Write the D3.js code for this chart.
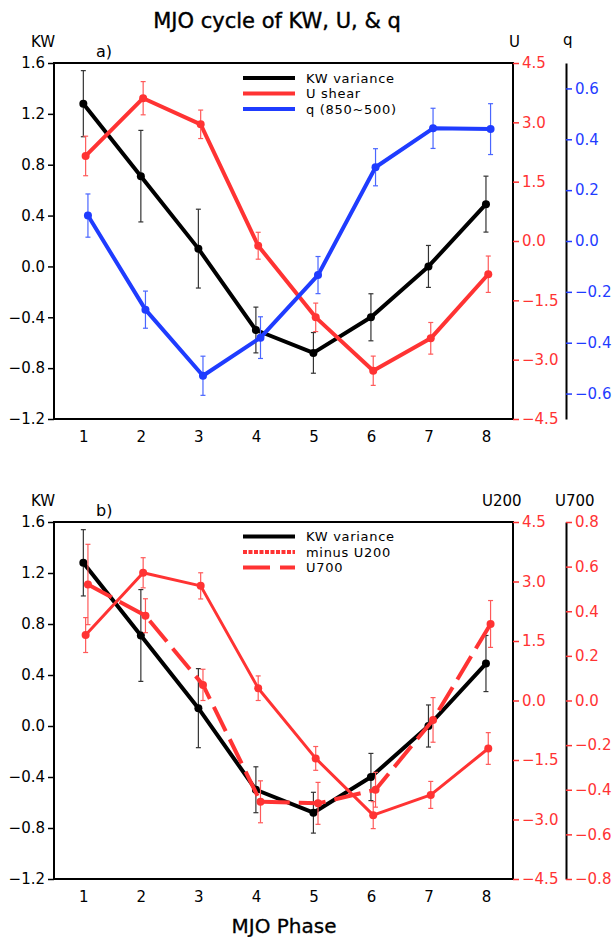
<!DOCTYPE html>
<html>
<head>
<meta charset="utf-8">
<script src="https://cdn.jsdelivr.net/npm/d3@7"></script>
<style>
  html, body { margin: 0; padding: 0; background: #fff; }
  svg text { font-family: "DejaVu Sans", sans-serif; }
</style>
</head>
<body>
<svg id="chart" width="613" height="937"></svg>
<script>
// ---------------- data ----------------
const phases = [1, 2, 3, 4, 5, 6, 7, 8];
const phaseTicks = [1, 2, 3, 4, 5, 6, 7, 8];

const kwVariance    = [1.28, 0.71, 0.14, -0.50, -0.68, -0.40, 0.00, 0.49];
const kwVarianceErr = [0.26, 0.36, 0.31, 0.18, 0.16, 0.185, 0.165, 0.22];

const uShear    = [2.15, 3.61, 2.95, -0.12, -1.93, -3.28, -2.46, -0.84];
const uShearErr = [0.50, 0.42, 0.36, 0.34, 0.36, 0.37, 0.40, 0.46];

const qMoist    = [0.10, -0.27, -0.53, -0.38, -0.134, 0.29, 0.443, 0.44];
const qMoistErr = [0.085, 0.073, 0.077, 0.082, 0.073, 0.073, 0.079, 0.10];

const minusU200    = [1.65, 3.22, 2.89, 0.31, -1.46, -2.89, -2.38, -1.21];
const minusU200Err = [0.44, 0.38, 0.33, 0.31, 0.30, 0.34, 0.34, 0.40];

const u700    = [0.52, 0.38, 0.07, -0.454, -0.461, -0.40, -0.087, 0.343];
const u700Err = [0.18, 0.076, 0.07, 0.094, 0.094, 0.078, 0.10, 0.105];

const kwTicks   = [-1.2, -0.8, -0.4, 0.0, 0.4, 0.8, 1.2, 1.6];
const uTicks    = [-4.5, -3.0, -1.5, 0.0, 1.5, 3.0, 4.5];
const qTicks    = [-0.6, -0.4, -0.2, 0.0, 0.2, 0.4, 0.6];
const u700Ticks = [-0.8, -0.6, -0.4, -0.2, 0.0, 0.2, 0.4, 0.6, 0.8];

const legendA = ["KW variance", "U shear", "q (850~500)"];
const legendB = ["KW variance", "minus U200", "U700"];

// ---------------- styles ----------------
const BLACK = "#000000", RED = "#ff3333", BLUE = "#1f3cff";
const RED_EB = "#ff5a5a", BLUE_EB = "#4a66ff", BLACK_EB = "#333333";

const svg = d3.select("#chart");
const fmt = d3.format(".1f");

const L = 54, R = 513, AX2 = 566;
const x = d3.scaleLinear().domain([0.49, 8.47]).range([L, R]);

function drawFrame(g, top, bottom) {
  g.append("rect").attr("x", L).attr("y", top).attr("width", R - L).attr("height", bottom - top)
    .attr("fill", "none").attr("stroke", BLACK).attr("stroke-width", 2);
}

function styleAxis(sel, color, size) {
  sel.selectAll("text").attr("fill", color).style("font-size", size + "px")
     .style("font-family", "DejaVu Sans, sans-serif");
  sel.selectAll(".tick line").attr("stroke", color).attr("stroke-width", 1.5);
}

function drawSeries(g, y, vals, errs, color, ebColor, offset, width, dash) {
  const pts = phases.map((p, i) => ({ px: x(p + offset), v: vals[i], e: errs[i] }));
  const line = d3.line().x(d => d.px).y(d => y(d.v));
  g.append("path").datum(pts).attr("d", line).attr("fill", "none")
    .attr("stroke", color).attr("stroke-width", width)
    .attr("stroke-linejoin", "round")
    .attr("stroke-dasharray", dash || null);
  const eb = g.append("g");
  pts.forEach(d => {
    eb.append("line").attr("x1", d.px).attr("x2", d.px)
      .attr("y1", y(d.v - d.e)).attr("y2", y(d.v + d.e))
      .attr("stroke", ebColor).attr("stroke-width", 1.2);
    [d.v - d.e, d.v + d.e].forEach(v => {
      eb.append("line").attr("x1", d.px - 2.5).attr("x2", d.px + 2.5)
        .attr("y1", y(v)).attr("y2", y(v)).attr("stroke", ebColor).attr("stroke-width", 1.2);
    });
  });
  g.append("g").selectAll("circle").data(pts).join("circle")
    .attr("cx", d => d.px).attr("cy", d => y(d.v)).attr("r", 4).attr("fill", color);
}

function drawLegend(g, top, labels, styles) {
  labels.forEach((lab, i) => {
    const yy = top + i * 15.5;
    const s = styles[i];
    g.append("line").attr("x1", 243).attr("x2", 295).attr("y1", yy).attr("y2", yy)
      .attr("stroke", s.color).attr("stroke-width", 4)
      .attr("stroke-dasharray", s.dash || null);
    g.append("text").attr("x", 306).attr("y", yy).attr("dy", "0.38em")
      .style("font-size", "13px").style("letter-spacing", "0.7px")
      .attr("fill", BLACK).text(lab);
  });
}

function leftAxis(g, y) {
  const a = g.append("g").attr("transform", `translate(${L},0)`)
    .call(d3.axisLeft(y).tickValues(kwTicks).tickFormat(fmt).tickSize(6).tickSizeOuter(0).tickPadding(3));
  a.select(".domain").remove();
  styleAxis(a, BLACK, 15);
}
function bottomAxis(g, bottom) {
  const a = g.append("g").attr("transform", `translate(0,${bottom})`)
    .call(d3.axisBottom(x).tickValues(phaseTicks).tickFormat(d3.format("d")).tickSize(0).tickPadding(12));
  a.select(".domain").remove();
  styleAxis(a, BLACK, 15);
}
function rightAxis(g, y, ticks, xpos, color, keepDomain) {
  const a = g.append("g").attr("transform", `translate(${xpos},0)`)
    .call(d3.axisRight(y).tickValues(ticks).tickFormat(fmt).tickSize(6).tickSizeOuter(0).tickPadding(3));
  if (keepDomain) a.select(".domain").attr("stroke", BLACK).attr("stroke-width", 2);
  else a.select(".domain").remove();
  styleAxis(a, color, 15);
}

// ---------------- title ----------------
svg.append("text").attr("x", 277).attr("y", 28).attr("text-anchor", "middle")
  .style("font-size", "21px").attr("fill", BLACK)
  .attr("stroke", BLACK).attr("stroke-width", 0.4)
  .text("MJO cycle of KW, U, & q");

// ---------------- panel a ----------------
{
  const top = 63, bottom = 419;
  const g = svg.append("g");
  const yKW = d3.scaleLinear().domain([-1.2, 1.6]).range([bottom, top]);
  const yU = d3.scaleLinear().domain([-4.5, 4.5]).range([bottom, top]);
  const yQ = d3.scaleLinear().domain([-0.7, 0.7]).range([bottom, top]);

  drawSeries(g, yKW, kwVariance, kwVarianceErr, BLACK, BLACK_EB, 0, 4);
  drawSeries(g, yU, uShear, uShearErr, RED, RED_EB, 0.04, 4);
  drawSeries(g, yQ, qMoist, qMoistErr, BLUE, BLUE_EB, 0.08, 4);

  drawFrame(g, top, bottom);
  leftAxis(g, yKW);
  bottomAxis(g, bottom);
  rightAxis(g, yU, uTicks, R, RED, false);
  rightAxis(g, yQ, qTicks, AX2, BLUE, true);

  drawLegend(g, 78, legendA, [{ color: BLACK }, { color: RED }, { color: BLUE }]);

  g.append("text").attr("x", 31).attr("y", 47).style("font-size", "15px").text("KW");
  g.append("text").attr("x", 96).attr("y", 57).style("font-size", "16px").text("a)");
  g.append("text").attr("x", 509).attr("y", 47).style("font-size", "15px").text("U");
  g.append("text").attr("x", 563).attr("y", 45).style("font-size", "15px").text("q");
}

// ---------------- panel b ----------------
{
  const top = 522, bottom = 879;
  const g = svg.append("g");
  const yKW = d3.scaleLinear().domain([-1.2, 1.6]).range([bottom, top]);
  const yU = d3.scaleLinear().domain([-4.5, 4.5]).range([bottom, top]);
  const y7 = d3.scaleLinear().domain([-0.8, 0.8]).range([bottom, top]);

  drawSeries(g, yKW, kwVariance, kwVarianceErr, BLACK, BLACK_EB, 0, 4);
  drawSeries(g, yU, minusU200, minusU200Err, RED, RED_EB, 0.04, 3);
  drawSeries(g, y7, u700, u700Err, RED, RED_EB, 0.08, 4, "27,9");

  drawFrame(g, top, bottom);
  leftAxis(g, yKW);
  bottomAxis(g, bottom);
  rightAxis(g, yU, uTicks, R, RED, false);
  rightAxis(g, y7, u700Ticks, AX2, RED, true);

  drawLegend(g, 536.5, legendB, [{ color: BLACK }, { color: RED, dash: "4,1.5" }, { color: RED, dash: "27,10" }]);

  g.append("text").attr("x", 31).attr("y", 506).style("font-size", "15px").text("KW");
  g.append("text").attr("x", 96).attr("y", 516).style("font-size", "16px").text("b)");
  g.append("text").attr("x", 482).attr("y", 506).style("font-size", "15px").text("U200");
  g.append("text").attr("x", 555).attr("y", 506).style("font-size", "15px").text("U700");

  svg.append("text").attr("x", 284).attr("y", 933).attr("text-anchor", "middle")
    .style("font-size", "20px").attr("stroke", BLACK).attr("stroke-width", 0.3)
    .text("MJO Phase");
}
</script>
</body>
</html>
